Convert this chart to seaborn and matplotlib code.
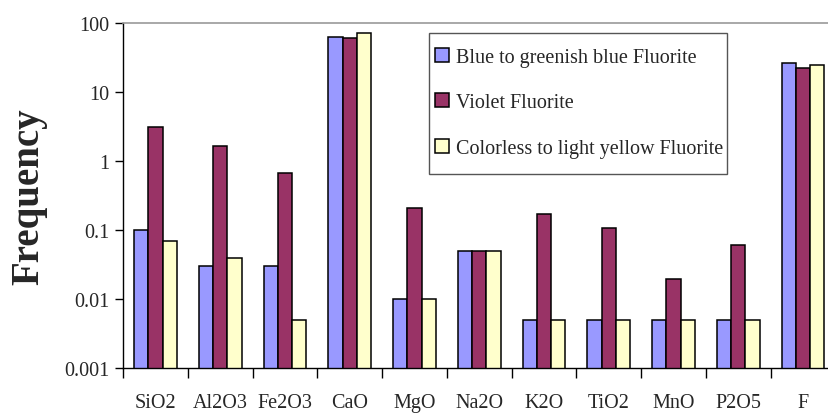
import pandas as pd
import matplotlib.pyplot as plt
import seaborn as sns
from matplotlib.patches import Rectangle
from matplotlib.ticker import FixedLocator, NullFormatter, NullLocator

oxides = ["SiO2", "Al2O3", "Fe2O3", "CaO", "MgO", "Na2O", "K2O", "TiO2", "MnO", "P2O5", "F"]
blue_fluorite = [0.1, 0.03, 0.03, 63, 0.01, 0.05, 0.005, 0.005, 0.005, 0.005, 26]
violet_fluorite = [3.1, 1.65, 0.68, 60, 0.21, 0.05, 0.17, 0.107, 0.0195, 0.06, 22]
colorless_fluorite = [0.069, 0.039, 0.005, 72, 0.01, 0.05, 0.005, 0.005, 0.005, 0.005, 24.5]
series_names = ["Blue to greenish blue Fluorite", "Violet Fluorite",
                "Colorless to light yellow Fluorite"]

rows = []
for name, vals in zip(series_names, [blue_fluorite, violet_fluorite, colorless_fluorite]):
    for ox, v in zip(oxides, vals):
        rows.append({"oxide": ox, "value": v, "type": name})
df = pd.DataFrame(rows)

sns.set_style("white")
plt.rcParams["font.family"] = ["Liberation Serif", "DejaVu Serif"]

fig = plt.figure(figsize=(8.29, 4.14), dpi=100)
ax = fig.add_axes([123 / 829, 1 - 369 / 414, 1 - 123 / 829, (369 - 24) / 414])

colors = ["#9999FF", "#993366", "#FFFFCC"]
sns.barplot(data=df, x="oxide", y="value", hue="type", palette=colors,
            saturation=1, edgecolor="black", linewidth=1.1, width=0.66,
            ax=ax, legend=True)
ax.set_yscale("log")

ax.set_ylim(0.001, 100)
ax.set_xlim(-0.5, 10.4)
ax.set_yticks([0.001, 0.01, 0.1, 1, 10, 100])
ax.set_yticklabels(["0.001", "0.01", "0.1", "1", "10", "100"])
ax.yaxis.set_minor_locator(NullLocator())
ax.tick_params(axis="y", which="major", direction="out", length=6, width=1,
               labelsize=14.5, pad=4, left=True, color="black")

# tick marks at category boundaries, labels at centres
ax.xaxis.set_minor_locator(FixedLocator([i + 0.5 for i in range(-1, 11)]))
ax.xaxis.set_minor_formatter(NullFormatter())
ax.tick_params(axis="x", which="minor", direction="out", length=7, width=1,
               bottom=True, color="black")
ax.tick_params(axis="x", which="major", length=0, labelsize=14.5, pad=18)

ax.set_xlabel("")
ax.set_ylabel("Frequency", fontsize=28, fontweight="bold", labelpad=12)

for s in ["left", "bottom"]:
    ax.spines[s].set_color("black")
    ax.spines[s].set_linewidth(1)
ax.spines["top"].set_color("#999999")
ax.spines["top"].set_linewidth(1.2)
ax.spines["right"].set_visible(False)

leg = ax.legend(loc="upper left", bbox_to_anchor=(435 / 829, 1 - 49 / 414),
                bbox_transform=fig.transFigure, fontsize=14.5, frameon=False,
                handlelength=0.7, handleheight=0.7, handletextpad=0.35,
                labelspacing=1.3, borderpad=0, borderaxespad=0)
leg.set_zorder(6)

# legend box is narrower than its text, as in the original
ax.add_patch(Rectangle((429 / 829, 1 - 175 / 414), (727 - 429) / 829,
                       (175 - 34) / 414, transform=fig.transFigure,
                       facecolor="white", edgecolor="#555555",
                       linewidth=1, zorder=5, clip_on=False))

fig.savefig("out.png", dpi=100)
